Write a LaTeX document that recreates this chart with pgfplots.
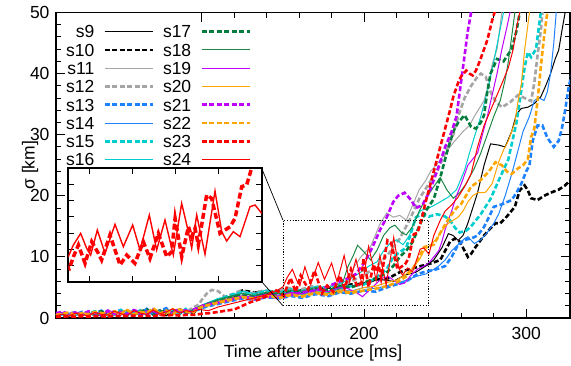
\documentclass[border=0pt]{standalone}
\usepackage{fontspec}
\setmainfont{Liberation Sans}
\usepackage{pgfplots}
\pgfplotsset{compat=1.18}
\usepackage{pgfplotstable}

\definecolor{cgray}{RGB}{165,165,165}
\definecolor{cblue}{RGB}{30,130,255}
\definecolor{ccyan}{RGB}{0,205,205}
\definecolor{cgreen}{RGB}{0,125,60}
\definecolor{cgreenb}{RGB}{30,135,70}
\definecolor{cpurple}{RGB}{190,0,255}
\definecolor{corange}{RGB}{255,165,0}

\pgfplotsset{
  sl/.style={line width=1pt},
  dl/.style={line width=2.6pt, dash pattern=on 5pt off 2.5pt},
}

\pgfplotstableread{
x y
10 0.2
14 0.2
18 0.3
22 0.2
26 0.3
30 0.2
34 0.3
38 0.3
42 0.2
46 0.4
50 0.3
54 0.3
58 0.4
62 0.3
66 0.4
70 0.3
74 0.5
78 0.4
82 0.5
86 0.4
90 0.5
95 0.5
100 0.7
105 0.8
110 1.0
115 1.2
120 1.4
125 2.0
130 2.6
135 3.0
140 3.6
145 4.6
148 4.2
150.5 3.65
152.4 5.09
154.7 6.53
157.8 4.27
160.9 6.94
164.0 5.50
165.5 4.68
169.4 7.76
174.1 4.06
177.2 5.29
181.0 4.27
184.9 6.94
188.0 4.88
191.9 7.97
195.8 5.09
198.1 5.71
199.7 9.82
202.8 5.09
205.9 8.79
207.4 7.56
209.0 8.59
210.5 6.53
214.4 12.70
216.7 12.29
220.6 7.97
225.3 8.79
227.6 9.82
230.7 13.73
233.0 13.94
235.3 16.0
238 19
241 22
245 26
248 29
251 32
253 34
255 36.2
258 38.5
260 39.6
263 40.5
265 40
267 39.7
269 40.5
271 41.8
274 44
276 45.5
279 48.7
281 50.5
282 53
}\tabA

\pgfplotstableread{
x y
10 0.4
14 0.6
18 0.3
22 0.8
26 0.5
30 0.4
34 0.9
38 0.6
42 0.5
46 1.1
50 0.7
54 0.4
58 1.2
62 0.8
66 0.6
70 1.3
74 0.7
78 1.0
82 1.5
86 0.8
90 1.2
94 1.0
98 1.4
104 1.2
110 1.8
116 2.2
122 2.6
128 3.0
134 3.4
140 3.8
145 4.3
150.0 5.09
152.35 6.53
155.76 7.97
158.55 6.12
160.41 5.29
163.51 8.38
167.08 5.50
171.74 9.08
175.61 6.32
179.96 9.00
183.37 5.91
187.71 10.23
191.13 5.91
195.00 9.62
198.88 5.29
202.76 11.68
205.87 8.18
207.42 6.12
209.75 10.23
213.62 5.38
218.28 13.20
221.38 8.18
223.71 7.02
226.81 8.18
229.92 7.56
234.57 11.26
236.90 11.47
240.0 10.44
243 13.5
247 16
250 17.5
254 18.5
258 19.8
262 21.5
266 23.6
270 28
274 31.5
278 34
282 36.5
286 39
289 41
292 44
294 47.5
296 50
297 53
}\tabB

\begin{document}
\begin{tikzpicture}
\path (0pt,0pt) rectangle (571pt,365pt);
\begin{axis}[
  at={(56pt,47pt)}, anchor=south west,
  scale only axis, width=514pt, height=305.5pt,
  xmin=10, xmax=327, ymin=0, ymax=50,
  xtick={100,200,300}, minor x tick num=4,
  ytick={0,10,...,50}, minor y tick num=4,
  major tick length=9pt, minor tick length=5pt,
  tick style={black, line width=1pt},
  axis line style={line width=1.2pt},
  tick label style={font=\fontsize{17.5}{20}\selectfont},
  label style={font=\fontsize{17.5}{20}\selectfont},
  /pgf/number format/assume math mode=true,
  xlabel={Time after bounce [ms]}, ylabel={σ [km]},
  xlabel style={at={(axis description cs:0.5,-0.1146)}, anchor=center},
  ylabel style={at={(axis description cs:-0.0506,0.5)}, anchor=center},
  yticklabel style={xshift=-3pt},
  xticklabel style={yshift=-6pt},
  legend columns=8, transpose legend,
  legend plot pos=right, legend cell align=right,
  legend image code/.code={\draw[#1] (0pt,0pt) -- (48pt,0pt);},
  legend style={draw=none, fill=none, at={(axis description cs:0.0175,0.962)}, anchor=north west, inner sep=0pt, column sep=8pt, row sep=3.8pt, font=\fontsize{17.5}{20}\selectfont, nodes={inner sep=1pt, text height=12.5pt, text depth=0pt}},
]
% s9
\addplot[sl, black] coordinates {(10,0.4)(14,0.6)(18,0.3)(22,0.7)(26,0.5)(30,0.8)(34,0.4)(38,0.9)(42,0.6)(46,1.1)(50,0.5)(54,1.0)(58,0.7)(62,1.3)(66,0.6)(70,1.2)(74,0.5)(78,1.1)(82,0.8)(86,1.4)(90,0.7)(94,1.2)(98,1.6)
(102,2.0)(108,2.5)(115,3.0)(122,3.2)(130,3.6)(138,3.8)(145,4.2)(150,4.0)(158,4.5)(165,4.3)(172,5.0)(180,4.8)(188,5.5)(195,5.2)(202,6.0)(210,6.3)(218,6.0)(225,7.0)(232,7.5)(238,8.5)(243,9.5)(248,11.5)(252,13.8)(255,13.5)(258,12.7)(261,13.5)(264,15.5)(267,18)(270,20.5)(274,25)(278,28.5)(283,28.3)(287,28)(291,30.5)(294,33.4)(297,34.3)(301,34.5)(305,35.1)(309,36.2)(312,38)(315,40)(318,42.5)(320,43.8)(322,47)(324,50)(326,53)};
% s10
\addplot[dl, black] coordinates {(10,0.5)(14,0.3)(18,0.7)(22,0.4)(26,0.8)(30,0.5)(34,0.9)(38,0.4)(42,1.1)(46,0.6)(50,1.0)(54,0.7)(58,1.2)(62,0.5)(66,1.3)(70,0.6)(74,1.1)(78,0.5)(82,1.3)(86,0.8)(90,1.1)(94,0.7)(98,1.5)
(102,2.0)(110,2.6)(118,3.2)(125,4.5)(132,4.2)(140,4.0)(148,4.4)(155,4.0)(162,4.6)(170,4.4)(178,5.0)(185,4.8)(192,5.5)(200,5.6)(207,6.3)(215,6.5)(222,7.5)(228,8.0)(235,8.5)(242,9.0)(247,9.5)(250,11)(253,12.5)(256,13)(259,12.5)(262,11)(264,10)(266,10.5)(269,11.7)(274,13.5)(278,14.7)(281,15.5)(284,15.5)(288,16.6)(293,18.2)(296,20.9)(299,21.7)(301,20.9)(303,19.6)(307,19.3)(311,20)(315,20.5)(320,21)(324,21.7)(327,22.5)};
% s11
\addplot[sl, cgray] coordinates {(10,0.4)(14,0.7)(18,0.5)(22,0.6)(26,0.9)(30,0.5)(34,1.0)(38,0.6)(42,0.8)(46,1.2)(50,0.6)(54,1.0)(58,1.3)(62,0.7)(66,1.1)(70,0.6)(74,1.4)(78,0.8)(82,1.0)(86,1.3)(90,0.8)(94,1.4)(98,1.9)
(102,2.2)(108,2.8)(115,3.2)(122,3.8)(130,3.5)(138,4.2)(145,4.0)(152,4.5)(160,4.2)(168,4.8)(175,4.4)(182,4.0)(186,4.3)(190,5.5)(194,8.4)(198,10)(204,11.7)(210,15.5)(214,17.2)(218,16.5)(222,16.8)(226,16.0)(230,18.5)(234,21)(238,22.5)(241,24)(246,25.5)(250,27)(256,29)(261,30.5)(265,31.5)(268,33)(274,35.6)(277,38.5)(279,41.5)(282,44)(285,50)(286,53)};
% s12
\addplot[dl, cgray] coordinates {(10,0.6)(14,0.4)(18,0.8)(22,0.6)(26,0.5)(30,1.0)(34,0.6)(38,0.8)(42,1.2)(46,0.5)(50,1.1)(54,0.9)(58,0.6)(62,1.3)(66,0.8)(70,1.1)(74,0.6)(78,1.4)(82,0.9)(86,1.2)(90,1.0)(94,1.6)(98,2.2)
(100,3.0)(103,4.0)(106,4.6)(110,4.4)(114,3.5)(118,3.8)(124,4.5)(130,4.0)(138,4.5)(145,4.2)(152,5.0)(160,4.6)(168,5.2)(176,5.0)(184,5.5)(192,6.0)(200,7.0)(208,8.5)(215,10.5)(222,13)(228,16)(234,19.5)(240,22)(245,24)(250,27)(255,30)(258,33)(262,36)(266,38)(270,39.5)(272,40)(275,39.5)(278,37)(281,35.5)(285,34.5)(290,35.3)(295,36.5)(299,36)(303,35.5)(305,38.5)(307,43)(309,47)(310,50)(311,53)};
% s13
\addplot[dl, cblue] coordinates {(10,0.5)(14,0.8)(18,0.4)(22,0.6)(26,1.0)(30,0.5)(34,0.8)(38,1.2)(42,0.4)(46,1.0)(50,1.3)(54,0.6)(58,1.1)(62,0.7)(66,1.5)(70,0.6)(74,1.2)(78,1.6)(82,0.5)(86,1.3)(90,0.9)(94,1.0)(98,1.4)
(102,1.8)(110,2.3)(118,2.8)(125,3.2)(132,3.0)(140,3.4)(148,3.2)(155,3.6)(162,3.3)(170,3.9)(178,3.6)(185,4.2)(192,4.0)(200,4.5)(207,4.3)(214,5.0)(220,5.5)(226,6.0)(233,7.2)(238,7.6)(245,8.0)(250,8.5)(254,10)(258,12)(262,12.8)(266,13)(270,13.5)(274,14.9)(277,16.5)(280,18.2)(285,18.6)(291,19.3)(294,20.5)(297,22)(300,24)(302,25)(304,29)(307,31.5)(310,31.5)(313,29.5)(317,28)(320,29)(322,31)(324,34)(326,37.5)(328,40)};
% s14
\addplot[sl, cblue] coordinates {(10,0.3)(14,0.5)(18,0.7)(22,0.4)(26,0.8)(30,0.6)(34,0.5)(38,1.0)(42,0.7)(46,0.6)(50,1.2)(54,0.8)(58,0.5)(62,1.1)(66,0.9)(70,1.3)(74,0.6)(78,1.0)(82,1.4)(86,0.7)(90,1.2)(94,0.9)(98,1.5)
(102,2.0)(110,2.5)(118,3.0)(125,3.5)(132,3.3)(140,3.8)(148,3.6)(155,4.0)(162,3.8)(170,4.3)(178,4.0)(185,4.6)(192,4.4)(200,5.0)(207,4.8)(214,5.3)(220,5.6)(226,6.2)(232,6.8)(238,7.2)(242,7.8)(246,8.5)(250,9.5)(254,11)(258,12)(262,13)(264,13.3)(268,12.2)(272,12.8)(276,14)(280,15.5)(283,17)(287,20)(291,23.5)(295,27.5)(298,30.5)(302,33)(305,35.6)(308,36)(311,35.6)(313,37)(315,40)(317,45)(318.5,50)(319.5,53)};
% s15
\addplot[dl, ccyan] coordinates {(10,0.5)(14,0.7)(18,0.4)(22,0.9)(26,0.5)(30,0.7)(34,1.1)(38,0.5)(42,0.9)(46,0.6)(50,1.3)(54,0.4)(58,1.0)(62,1.2)(66,0.5)(70,1.4)(74,0.7)(78,0.9)(82,1.3)(86,0.6)(90,1.5)(94,1.0)(98,1.7)
(102,2.2)(110,3.0)(118,3.8)(125,4.2)(132,3.8)(140,4.3)(148,4.0)(155,4.4)(162,4.0)(170,4.6)(178,4.3)(185,4.9)(192,5.2)(200,5.5)(207,6.5)(214,8)(218,10)(222,10.8)(226,11.5)(229,14)(232,16.5)(236,17)(240,16.6)(245,17)(250,16.6)(253,16)(256,14.8)(259,14)(263,14.3)(266,15)(272,17)(278,19.5)(283,22.5)(289,26)(294,32)(297,37.3)(299,41)(301,43.5)(303,42.7)(306,44)(309,50)(310,53)};
% s16
\addplot[sl, ccyan] coordinates {(10,0.4)(14,0.5)(18,0.8)(22,0.5)(26,0.7)(30,0.4)(34,1.0)(38,0.7)(42,0.5)(46,1.2)(50,0.8)(54,0.6)(58,1.1)(62,0.9)(66,0.6)(70,1.3)(74,1.0)(78,0.7)(82,1.2)(86,1.0)(90,1.4)(94,0.9)(98,1.6)
(102,2.3)(110,3.2)(118,3.6)(125,4.4)(132,4.0)(140,4.6)(148,4.3)(155,4.8)(162,4.5)(170,5.2)(178,5.0)(185,5.6)(192,6.5)(198,7.5)(203,8.5)(208,9.2)(212,11)(216,12.2)(220,12.8)(224,12.0)(228,13.5)(231,16)(235,17.6)(240,18)(245,18.7)(252,19.8)(257,21)(262,24.2)(265,27)(268,29.6)(272,33)(276,37)(280,42)(283,46)(286,50)(287,53)};
% s17
\addplot[dl, cgreen] coordinates {(10,0.6)(14,0.5)(18,0.7)(22,0.9)(26,0.4)(30,0.8)(34,0.6)(38,1.1)(42,0.5)(46,0.9)(50,0.7)(54,1.2)(58,0.5)(62,1.0)(66,1.4)(70,0.6)(74,0.9)(78,1.3)(82,0.7)(86,1.5)(90,0.8)(94,1.2)(98,1.7)
(102,2.2)(110,2.8)(118,3.4)(125,3.8)(132,3.5)(140,4.0)(148,3.8)(155,4.4)(162,4.1)(170,4.8)(178,4.5)(185,5.2)(192,5.0)(200,5.8)(207,6.5)(213,7.2)(218,8.5)(222,10)(226,11)(230,12.5)(234,15)(238,17.5)(243,19.5)(247,23)(251,27)(255,30.5)(258,32)(262,33.2)(266,31.3)(269,31)(272,32)(274,33.2)(276,37)(278,40)(282,42.4)(286,42)(291,44)(294,47)(296,50)(297,53)};
% s18
\addplot[sl, cgreenb] coordinates {(10,0.4)(14,0.6)(18,0.5)(22,0.8)(26,0.6)(30,0.9)(34,0.5)(38,0.7)(42,1.0)(46,0.6)(50,0.9)(54,1.3)(58,0.6)(62,0.8)(66,1.2)(70,0.9)(74,1.4)(78,0.7)(82,1.1)(86,1.5)(90,0.8)(94,1.3)(98,1.8)
(102,2.2)(110,3.0)(118,3.6)(125,4.0)(132,3.7)(140,4.2)(148,4.0)(155,4.6)(162,4.4)(170,5.0)(176,4.6)(181,3.8)(186,5.1)(190,8.4)(193,10)(196,11.9)(200,10.8)(204,9.5)(208,11.1)(212,13.5)(216,14.8)(219,15.2)(223,14.0)(226,13.6)(230,15)(234,17.5)(238,19.5)(243,21.5)(247,23)(251,21)(255,19.6)(259,20.5)(263,22)(268,24.5)(272,27)(276,30)(280,33)(284,35.6)(287,39)(289,42)(291,46)(293,50)(294,53)};
% s19
\addplot[sl, cpurple] coordinates {(10,0.7)(14,0.9)(18,0.6)(22,1.0)(26,0.7)(30,0.5)(34,1.0)(38,0.6)(42,0.9)(46,1.2)(50,0.5)(54,0.8)(58,1.1)(62,0.6)(66,1.2)(70,1.0)(74,0.5)(78,1.3)(82,0.8)(86,1.1)(90,1.4)(94,0.9)(98,1.5)
(102,2.0)(110,2.6)(118,3.2)(125,3.6)(132,3.4)(140,3.9)(148,3.7)(155,4.2)(162,4.0)(170,4.6)(178,4.3)(185,5.0)(190,4.8)(195,4.2)(199,3.5)(203,4.5)(207,5.5)(211,6.5)(215,6.8)(219,6.0)(222,5.5)(225,5.7)(229,7)(233,8)(237,8.5)(240,9)(243,10)(246,11)(248,12.5)(250,14.5)(254,17.5)(257,20)(260,22)(264,25)(267,26)(270,27)(273,30)(276,33)(279,36.5)(282,40)(285,44)(288,47.5)(290,50)(291,53)};
% s20
\addplot[sl, corange] coordinates {(10,0.5)(14,0.6)(18,0.4)(22,0.7)(26,0.9)(30,0.5)(34,0.8)(38,0.6)(42,1.2)(46,0.7)(50,0.9)(54,1.4)(58,0.5)(62,1.1)(66,0.7)(70,1.5)(74,0.9)(78,0.6)(82,1.6)(86,0.8)(90,1.2)(94,1.0)(98,1.6)
(102,2.0)(110,2.7)(118,3.2)(125,3.5)(132,3.2)(140,3.8)(148,3.5)(155,4.0)(162,3.7)(170,4.3)(178,4.0)(185,4.6)(192,4.3)(200,5.0)(207,5.2)(214,5.8)(220,6.2)(225,7)(230,8.2)(234,9.5)(237,11)(241,12)(245,13)(248,14.3)(252,15.5)(255,16)(258,16.5)(261,17.5)(264,19)(267,20)(270,20.5)(273,20.5)(275,20.6)(279,22)(283,25.5)(286,27.5)(289,29)(293,32)(295,35.6)(297,38.3)(299,43.8)(302,50)(303,53)};
% s21
\addplot[dl, cpurple] coordinates {(10,0.8)(14,1.0)(18,0.7)(22,0.9)(26,0.6)(30,1.1)(34,0.8)(38,0.5)(42,1.2)(46,0.7)(50,1.0)(54,0.6)(58,1.3)(62,0.9)(66,0.6)(70,1.4)(74,0.7)(78,1.1)(82,0.9)(86,1.5)(90,0.8)(94,1.3)(98,1.7)
(102,2.2)(110,2.5)(118,3.0)(125,3.4)(132,3.1)(140,3.5)(148,3.3)(155,3.8)(162,4.2)(170,4.5)(178,5.2)(185,6.0)(190,6.5)(195,7.2)(200,9)(205,11.5)(210,14.5)(214,16.5)(218,19)(221,20)(225,20.5)(229,19.3)(232,18)(236,18.5)(240,20.5)(245,24)(250,28)(254,30.5)(257,33)(259,37)(261,41)(263,45)(264,47)(266,50)(267,53)};
% s22
\addplot[dl, corange] coordinates {(10,0.5)(14,0.7)(18,0.9)(22,0.5)(26,0.8)(30,0.6)(34,1.0)(38,0.8)(42,0.5)(46,1.1)(50,0.7)(54,1.3)(58,0.6)(62,1.0)(66,0.8)(70,1.6)(74,0.7)(78,1.2)(82,0.6)(86,1.4)(90,1.1)(94,0.8)(98,1.6)
(102,2.0)(110,2.5)(118,3.0)(125,3.4)(132,3.2)(140,3.6)(148,3.3)(155,3.8)(162,3.5)(170,4.1)(178,3.8)(185,4.3)(192,4.1)(200,4.5)(207,4.8)(214,5.2)(220,5.8)(226,6.8)(230,8)(234,10)(237,11.6)(240,11.8)(243,12)(248,14.4)(253,16.6)(257,18)(260,18.7)(266,21.5)(272,22.6)(277,24)(281,25.5)(285,25)(288,24)(291,23.6)(295,24.5)(298,25)(301,26)(303,29.6)(305,31)(307,35.6)(309,41.1)(311,46)(313,50)(314,53)};
% s23
\addplot[dl, red] table[x=x, y=y] {\tabA};
% s24
\addplot[sl, red] table[x=x, y=y] {\tabB};
\legend{s9,s10,s11,s12,s13,s14,s15,s16,s17,s18,s19,s20,s21,s22,s23,s24}
\draw[line width=1pt, dash pattern=on 1.2pt off 1.6pt] (axis cs:150,2) rectangle (axis cs:240,16);
\coordinate (rtl) at (axis cs:150,16);
\coordinate (rbl) at (axis cs:150,2);
\end{axis}
\begin{axis}[
  name=inset,
  at={(68.3pt,83.3pt)}, anchor=south west,
  scale only axis, width=193.4pt, height=113.4pt,
  xmin=150, xmax=240, ymin=2, ymax=16,
  xtick={160,180,200,220}, ytick={4,6,...,14},
  xticklabels={}, yticklabels={},
  major tick length=6pt,
  tick style={black, line width=1pt},
  axis line style={line width=1.8pt},
  axis background/.style={fill=white},
]
\addplot[line width=3.5pt, red, dash pattern=on 6pt off 3pt] table[x=x, y=y] {\tabA};
\addplot[line width=1.4pt, red] table[x=x, y=y] {\tabB};
\end{axis}
\draw[line width=0.7pt] (inset.north east) -- (rtl);
\draw[line width=0.7pt] (inset.south east) -- (rbl);
\end{tikzpicture}
\end{document}
